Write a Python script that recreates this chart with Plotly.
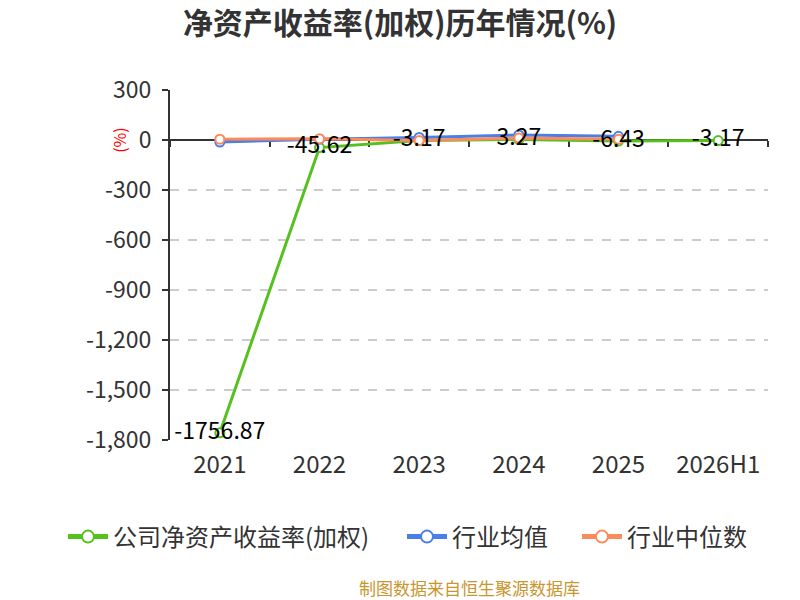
import plotly.graph_objects as go

categories = ["2021", "2022", "2023", "2024", "2025", "2026H1"]
company_roe = [-1756.87, -45.62, -3.17, 3.27, -6.43, -3.17]
industry_mean = [-12, 5, 15, 30, 22, None]
industry_median = [5, 8, -3, 12, 4, None]
label_text = ["-1756.87", "-45.62", "-3.17", "3.27", "-6.43", "-3.17"]
y_ticks = [300, 0, -300, -600, -900, -1200, -1500, -1800]
y_tick_text = ["300", "0", "-300", "-600", "-900", "-1,200", "-1,500", "-1,800"]

FONT = "Noto Sans CJK SC"
GREEN = "#56c11e"
BLUE = "#4a7ee8"
ORANGE = "#fb8a5c"

fig = go.Figure()

# dummy trace to carry the bottom category axis (labels only)
fig.add_trace(go.Scatter(x=categories, y=[None] * 6, xaxis="x", showlegend=False,
                         hoverinfo="skip", mode="lines"))

def add_series(name, vals, color, legend):
    fig.add_trace(go.Scatter(
        x=categories, y=vals, name=name, mode="lines+markers", xaxis="x2",
        line=dict(color=color, width=3),
        marker=dict(symbol="circle", size=9, color="white",
                    line=dict(color=color, width=2)),
        connectgaps=False, legend=legend,
    ))

add_series("公司净资产收益率(加权)", company_roe, GREEN, "legend")
add_series("行业均值", industry_mean, BLUE, "legend2")
add_series("行业中位数", industry_median, ORANGE, "legend3")

fig.add_trace(go.Scatter(
    x=categories, y=company_roe, mode="text", text=label_text, xaxis="x2",
    textposition="middle center", showlegend=False,
    textfont=dict(family=FONT, size=23, color="#000000"),
    hoverinfo="skip",
))

def legend_box(xpix):
    return dict(orientation="h", xref="container", yref="container",
                x=xpix / 800, xanchor="left", y=1 - 537 / 600, yanchor="middle",
                font=dict(family=FONT, size=24, color="#333333"),
                itemwidth=40, itemsizing="constant", bgcolor="rgba(0,0,0,0)")

fig.update_layout(
    width=800, height=600,
    paper_bgcolor="white", plot_bgcolor="white",
    margin=dict(l=170, r=32, t=90, b=160, autoexpand=False),
    font=dict(family=FONT, color="#333333"),
    title=dict(text="<b>净资产收益率(加权)历年情况(%)</b>", x=0.5, xanchor="center",
               y=1 - 23 / 600, yanchor="middle",
               font=dict(family=FONT, size=30, color="#333333")),
    showlegend=True,
    legend=legend_box(63),
    legend2=legend_box(402),
    legend3=legend_box(577),
    xaxis=dict(type="category", categoryorder="array", categoryarray=categories,
               range=[-0.5, 5.5], showline=False, showgrid=False, ticks="",
               zeroline=False,
               tickfont=dict(family=FONT, size=24, color="#333333"),
               ticklabelstandoff=8),
    xaxis2=dict(type="category", categoryorder="array", categoryarray=categories,
                range=[-0.5, 5.5], overlaying="x", anchor="free",
                position=1800 / 2100, showline=True, linecolor="#333333",
                linewidth=2, ticks="outside", tickson="boundaries", ticklen=6,
                tickcolor="#333333", tickwidth=2, showticklabels=False,
                showgrid=False, zeroline=False, layer="below traces"),
    yaxis=dict(range=[-1800, 300], tickvals=y_ticks, ticktext=y_tick_text,
               showline=True, linecolor="#333333", linewidth=2,
               ticks="outside", ticklen=6, tickcolor="#333333", tickwidth=2,
               showgrid=True, gridcolor="#cccccc", griddash="dash", gridwidth=1.5,
               zeroline=False,
               tickfont=dict(family=FONT, size=23, color="#333333"),
               ticklabelstandoff=6),
)

fig.add_annotation(text="(%)", xref="paper", yref="paper", x=-0.109, y=0.9,
                   showarrow=False, textangle=-90,
                   font=dict(family=FONT, size=16, color="#ff0000"))
fig.add_annotation(text="制图数据来自恒生聚源数据库", xref="paper", yref="paper",
                   x=0.5, y=(440 - 587) / 350, xanchor="center", yanchor="middle",
                   showarrow=False,
                   font=dict(family=FONT, size=17, color="#c8962e"))

fig.write_html("out.html", config={"displayModeBar": False},
               post_script="document.body.style.margin='0';")
